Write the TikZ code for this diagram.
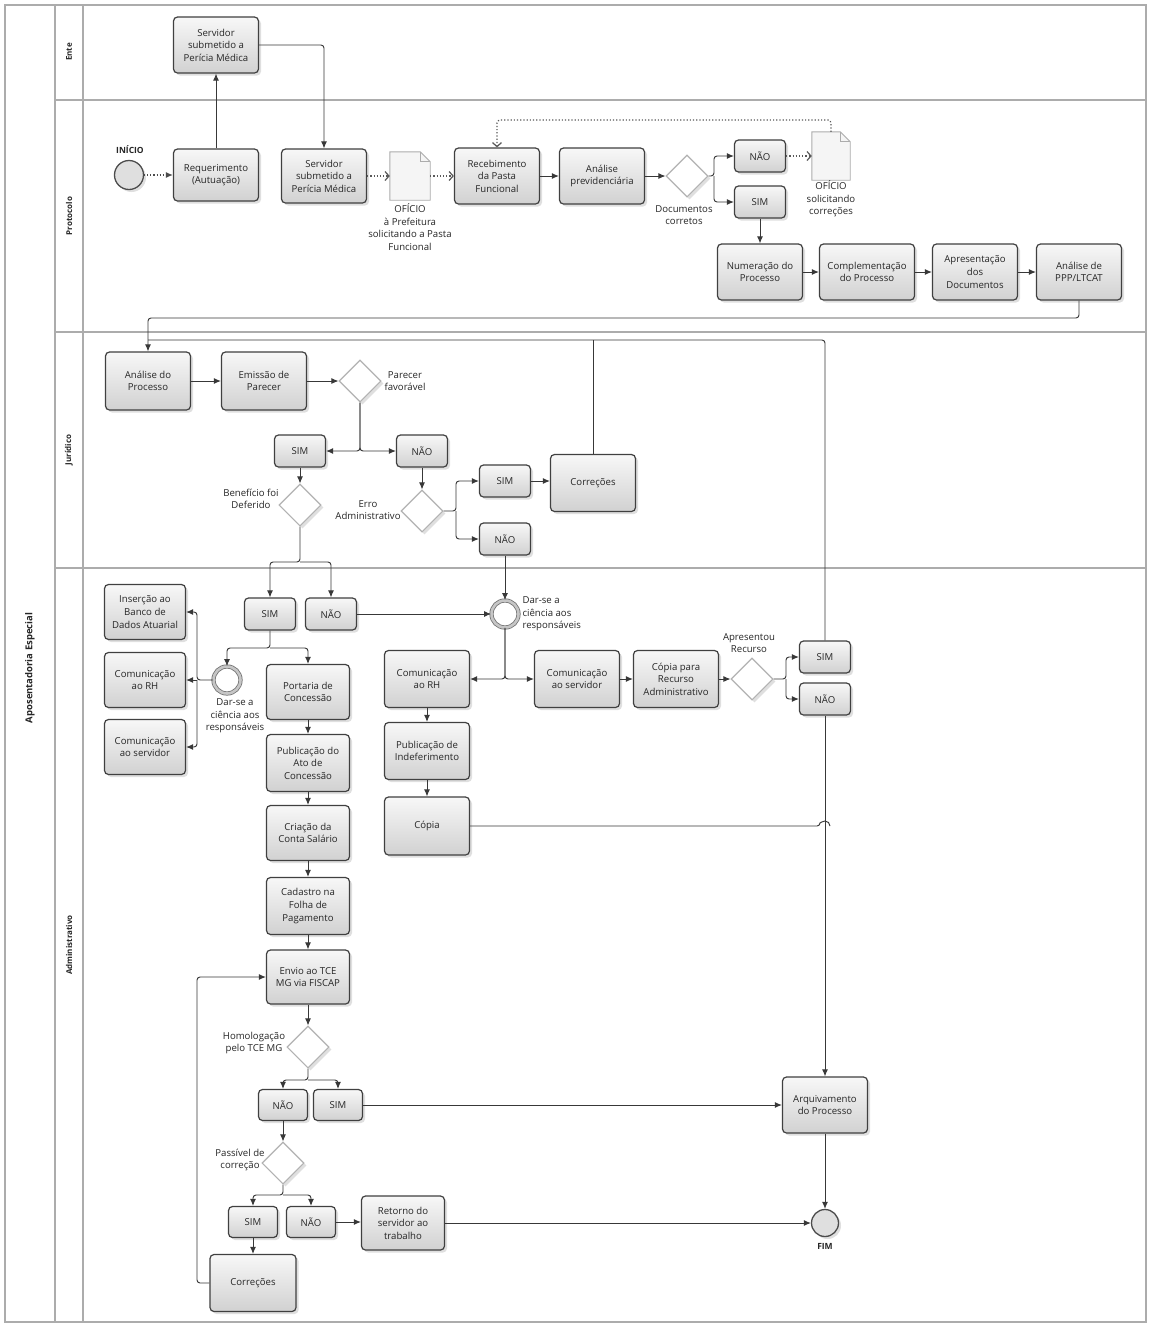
\documentclass[tikz,border=0pt]{standalone}
\usepackage{fontspec}
\setmainfont{Open Sans}
\usetikzlibrary{arrows.meta,shapes.geometric,shadows,calc}
\begin{document}
\begin{tikzpicture}[x=1pt,y=-1pt,
  font=\fontsize{9.6}{12.6}\selectfont,
  shd/.style={drop shadow={shadow xshift=2.5pt,shadow yshift=-2.5pt,opacity=0.25}},
  task/.style={draw=black!75, line width=1.2pt, rounded corners=4pt, top color=gray!6, bottom color=gray!36, shd, align=center, inner sep=1pt, text=black!85},
  tk/.style={task, minimum width=85pt, minimum height=56pt},
  ch/.style={task, minimum width=51pt, minimum height=32pt},
  gw/.style={diamond, aspect=1, draw=gray!60, line width=1.1pt, fill=white, minimum width=42pt, minimum height=42pt, inner sep=0pt, shd},
  startev/.style={circle, draw=black!70, line width=1.3pt, fill=gray!25, minimum size=29pt, inner sep=0pt, shd},
  midev/.style={circle, draw=black!55, line width=0.8pt, double=gray!45, double distance=2.6pt, fill=white, minimum size=27pt, inner sep=0pt},
  docbox/.style={minimum width=40pt, minimum height=48pt, inner sep=0pt},
  docline/.style={draw=gray!65, line width=0.9pt, fill=gray!8},
  lbl/.style={align=center, text=black!85},
  flow/.style={draw=black!78, line width=0.95pt, -{Latex[length=7pt,width=6pt]}, rounded corners=3pt},
  plain/.style={draw=black!78, line width=0.95pt, rounded corners=3pt},
  startflow/.style={draw=black!70, line width=1.1pt, dotted, -{Latex[length=7pt,width=6pt]}},
  msg/.style={draw=black!65, line width=1.2pt, dotted, rounded corners=3pt, -{Straight Barb[length=4pt,width=9pt]}},
  lane/.style={draw=gray!65, line width=1.1pt},
  lanelbl/.style={rotate=90, font=\bfseries\fontsize{8}{9}\selectfont, text=black!85}
]
\fill[white] (0,0) rectangle (1149,1326);
\useasboundingbox (0,0) rectangle (1149,1326);

% frame and lanes
\draw[lane] (5,5) rectangle (1146,1322);
\draw[lane] (55,5) -- (55,1322);
\draw[lane] (83,5) -- (83,1322);
\draw[lane] (55,100) -- (1146,100);
\draw[lane] (55,332) -- (1146,332);
\draw[lane] (55,568) -- (1146,568);
\node[lanelbl] (lEnte) at (69,52) {Ente};
\node[lanelbl] (lProt) at (69,216) {Protocolo};
\node[lanelbl] (lJur) at (69,450) {Jurídico};
\node[lanelbl] (lAdm) at (69,945) {Administrativo};
\node[lanelbl, font=\bfseries\fontsize{9.5}{11}\selectfont] (lPool) at (30,668) {Aposentadoria Especial};

% ===== Ente =====
\node[tk] (perE) at (216,45) {Servidor\\submetido a\\Perícia Médica};

% ===== Protocolo =====
\node[startev] (start) at (129,175) {};
\node[font=\bfseries\fontsize{8.5}{10}\selectfont, text=black!85] (lbini) at (130,150) {INÍCIO};
\node[tk, minimum height=52pt] (req) at (216,175) {Requerimento\\(Autuação)};
\node[tk, minimum height=54pt] (perP) at (324,176) {Servidor\\submetido a\\Perícia Médica};
\node[docbox] (doc1) at (410,176) {};
\draw[docline] (doc1.north west) -- ($(doc1.north east)+(-10,0)$) -- ($(doc1.north east)+(0,10)$) -- (doc1.south east) -- (doc1.south west) -- cycle;
\draw[docline, fill=none] ($(doc1.north east)+(-10,0)$) -- ++(0,10) -- ++(10,0);
\node[lbl] (ldoc1) at (410,227) {OFÍCIO\\à Prefeitura\\solicitando a Pasta\\Funcional};
\node[tk] (receb) at (497,176) {Recebimento\\da Pasta\\Funcional};
\node[tk] (anprev) at (602,176) {Análise\\previdenciária};
\node[gw] (gw1) at (687,176) {};
\node[lbl] (lgw1) at (684,215) {Documentos\\corretos};
\node[ch] (nao1) at (760,156) {NÃO};
\node[ch] (sim1) at (760,202) {SIM};
\node[docbox, minimum width=38pt] (doc2) at (831,156) {};
\draw[docline] (doc2.north west) -- ($(doc2.north east)+(-10,0)$) -- ($(doc2.north east)+(0,10)$) -- (doc2.south east) -- (doc2.south west) -- cycle;
\draw[docline, fill=none] ($(doc2.north east)+(-10,0)$) -- ++(0,10) -- ++(10,0);
\node[lbl] (ldoc2) at (831,199) {OFÍCIO\\solicitando\\correções};
\node[tk] (num) at (760,272) {Numeração do\\Processo};
\node[tk, minimum width=95pt] (comp) at (867,272) {Complementação\\do Processo};
\node[tk] (apr) at (975,272) {Apresentação\\dos\\Documentos};
\node[tk] (ppp) at (1079,272) {Análise de\\PPP/LTCAT};

% ===== Jurídico =====
\node[tk, minimum height=58pt] (anproc) at (148,381) {Análise do\\Processo};
\node[tk, minimum height=58pt] (emis) at (264,381) {Emissão de\\Parecer};
\node[gw] (gw2) at (360,381) {};
\node[lbl] (lgw2) at (405,381) {Parecer\\favorável};
\node[ch] (simJ) at (300,451) {SIM};
\node[ch] (naoJ) at (422,451) {NÃO};
\node[gw] (gwBen) at (300,505) {};
\node[lbl] (lgwBen) at (251,499) {Benefício foi\\Deferido};
\node[gw] (gwErro) at (422,511) {};
\node[lbl] (lgwErro) at (368,510) {Erro\\Administrativo};
\node[ch] (simE) at (505,481) {SIM};
\node[tk, minimum height=57pt] (corrJ) at (593,483) {Correções};
\node[ch] (naoE) at (505,539) {NÃO};

% ===== Administrativo =====
\node[ch] (simA) at (270,614) {SIM};
\node[ch] (naoA) at (331,614) {NÃO};
\node[midev] (evR) at (505,614) {};
\node[lbl, anchor=west, align=left] (levR) at (519,614) {Dar-se a\\ciência aos\\responsáveis};
\node[tk, minimum width=81pt, minimum height=55pt] (ins) at (145,612) {Inserção ao\\Banco de\\Dados Atuarial};
\node[tk, minimum width=81pt, minimum height=55pt] (comRH1) at (145,680) {Comunicação\\ao RH};
\node[tk, minimum width=81pt, minimum height=55pt] (comSrv1) at (145,747) {Comunicação\\ao servidor};
\node[midev] (evL) at (227,680) {};
\node[lbl] (levL) at (235,716) {Dar-se a\\ciência aos\\responsáveis};
\node[tk, minimum width=83pt, minimum height=55pt] (port) at (308,692) {Portaria de\\Concessão};
\node[tk, minimum width=83pt, minimum height=57pt] (pubAto) at (308,763) {Publicação do\\Ato de\\Concessão};
\node[tk, minimum width=83pt, minimum height=55pt] (criacao) at (308,833) {Criação da\\Conta Salário};
\node[tk, minimum width=83pt, minimum height=57pt] (cadastro) at (308,906) {Cadastro na\\Folha de\\Pagamento};
\node[tk, minimum width=83pt, minimum height=54pt] (envio) at (308,977) {Envio ao TCE\\MG via FISCAP};
\node[gw] (gwHom) at (308,1047) {};
\node[lbl] (lgwHom) at (254,1043) {Homologação\\pelo TCE MG};
\node[ch, minimum width=49pt, minimum height=31pt] (naoH) at (283,1105) {NÃO};
\node[ch, minimum width=49pt, minimum height=31pt] (simH) at (338,1105) {SIM};
\node[gw] (gwPas) at (283,1163) {};
\node[lbl] (lgwPas) at (240,1160) {Passível de\\correção};
\node[ch, minimum width=49pt, minimum height=31pt] (simP) at (253,1222) {SIM};
\node[ch, minimum width=49pt, minimum height=31pt] (naoP) at (311,1222) {NÃO};
\node[tk, minimum width=83pt, minimum height=54pt] (ret) at (403,1223) {Retorno do\\servidor ao\\trabalho};
\node[tk, minimum width=86pt, minimum height=57pt] (corrA) at (253,1283) {Correções};
\node[tk, minimum width=85pt, minimum height=56pt] (arq) at (825,1105) {Arquivamento\\do Processo};
\node[startev, minimum size=27pt] (fim) at (825,1223) {};
\node[font=\bfseries\fontsize{8.5}{10}\selectfont, text=black!85] (lbfim) at (825,1246) {FIM};
\node[tk, minimum height=57pt] (comRH2) at (427,679) {Comunicação\\ao RH};
\node[tk, minimum height=57pt] (pubInd) at (427,751) {Publicação de\\Indeferimento};
\node[tk, minimum height=58pt] (copia) at (427,826) {Cópia};
\node[tk, minimum height=57pt] (comSrv2) at (577,679) {Comunicação\\ao servidor};
\node[tk, minimum height=57pt] (copiaRec) at (676,679) {Cópia para\\Recurso\\Administrativo};
\node[gw] (gwAp) at (752,679) {};
\node[lbl] (lgwAp) at (749,643) {Apresentou\\Recurso};
\node[ch] (simR) at (825,657) {SIM};
\node[ch] (naoR) at (825,699) {NÃO};

% ===== connectors: Ente / Protocolo =====
\draw[startflow] (start) -- (req);
\draw[flow] (req) -- (perE);
\draw[flow] (perE.east) -| (perP.north);
\draw[msg] (perP) -- (doc1);
\draw[msg] (doc1) -- (receb);
\draw[flow] (receb) -- (anprev);
\draw[flow] (anprev) -- (gw1);
\coordinate (b0) at (714,176);
\draw[flow] (gw1.east) -- (b0) |- (nao1.west);
\draw[flow] (b0) |- (sim1.west);
\draw[msg] (nao1) -- (doc2);
\coordinate (c1) at (497,120);
\draw[msg] (doc2.north) |- (c1) -- (receb.north);
\draw[flow] (sim1) -- (num);
\draw[flow] (num) -- (comp);
\draw[flow] (comp) -- (apr);
\draw[flow] (apr) -- (ppp);
\coordinate (c2) at (148,318);
\coordinate (c3) at (148,340);
\draw[flow] (ppp.south) |- (c2) -- (anproc.north);
\draw[plain] (corrJ.north) -- (corrJ.north |- c3);
\draw[plain] (simR.north) |- (c3);

% ===== connectors: Jurídico =====
\draw[flow] (anproc) -- (emis);
\draw[flow] (emis) -- (gw2);
\draw[flow] (gw2.south) |- (simJ.east);
\draw[flow] (gw2.south) |- (naoJ.west);
\draw[flow] (simJ) -- (gwBen);
\draw[flow] (naoJ) -- (gwErro);
\coordinate (b1) at (456,511);
\draw[flow] (gwErro.east) -- (b1) |- (simE.west);
\draw[flow] (b1) |- (naoE.west);
\draw[flow] (simE.east) -- (simE.east -| corrJ.west);

% ===== connectors: Administrativo =====
\coordinate (b2) at (300,562);
\draw[flow] (gwBen.south) -- (b2) -| (simA.north);
\draw[flow] (b2) -| (naoA.north);
\draw[flow] (naoE) -- (evR);
\draw[flow] (naoA) -- (evR);
\draw[flow] (evR.south) |- (comRH2.east);
\draw[flow] (evR.south) |- (comSrv2.west);
\draw[flow] (comRH2) -- (pubInd);
\draw[flow] (pubInd) -- (copia);
\coordinate (j1) at (820,826);
\draw[plain] (copia.east) -- (j1) arc[start angle=180, end angle=0, radius=5pt];
\draw[flow] (comSrv2) -- (copiaRec);
\draw[flow] (copiaRec) -- (gwAp);
\coordinate (b3) at (786,679);
\draw[flow] (gwAp.east) -- (b3) |- (simR.west);
\draw[flow] (b3) |- (naoR.west);
\draw[flow] (naoR) -- (arq);

\coordinate (b4) at (270,648);
\draw[flow] (simA.south) -- (b4) -| (evL.north);
\draw[flow] (b4) -| (port.north);
\coordinate (b5) at (197,680);
\draw[flow] (evL.west) -- (b5) |- (ins.east);
\draw[flow] (b5) -- (comRH1.east);
\draw[flow] (b5) |- (comSrv1.east);
\draw[flow] (port) -- (pubAto);
\draw[flow] (pubAto) -- (criacao);
\draw[flow] (criacao) -- (cadastro);
\draw[flow] (cadastro) -- (envio);
\draw[flow] (envio) -- (gwHom);
\coordinate (b6) at (308,1080);
\draw[flow] (gwHom.south) -- (b6) -| (naoH.north);
\draw[flow] (b6) -| (simH.north);
\draw[flow] (simH) -- (arq);
\draw[flow] (naoH) -- (gwPas);
\coordinate (b7) at (283,1195);
\draw[flow] (gwPas.south) -- (b7) -| (simP.north);
\draw[flow] (b7) -| (naoP.north);
\draw[flow] (naoP.east) -- (naoP.east -| ret.west);
\draw[flow] (simP) -- (corrA);
\coordinate (b8) at (197,977);
\draw[flow] (corrA.west) -| (b8) -- (envio.west);
\draw[flow] (ret) -- (fim);
\draw[flow] (arq) -- (fim);
\end{tikzpicture}
\end{document}
